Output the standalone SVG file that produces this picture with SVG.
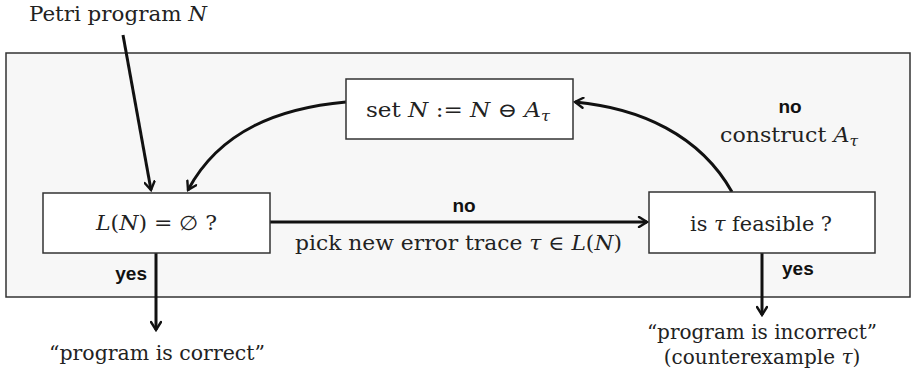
<svg xmlns="http://www.w3.org/2000/svg" width="916" height="386" viewBox="0 0 916 386">
<style>
.t{font-family:"DejaVu Serif","Liberation Serif",serif;font-size:20px;fill:#222}
.m{font-style:italic}
.b{font-family:"Liberation Sans",Arial,sans-serif;font-weight:bold;font-size:19px;fill:#111}
.box{fill:#fff;stroke:#333;stroke-width:1.5}
.e{fill:none;stroke:#111;stroke-width:3;marker-end:url(#ah)}
</style>
<defs>
<marker id="ah" viewBox="0 0 12 12" refX="10" refY="6" markerWidth="12" markerHeight="12" markerUnits="userSpaceOnUse" orient="auto">
<path d="M2,1 L10,6 L2,11" fill="none" stroke="#111" stroke-width="2.4" stroke-linecap="round"/>
</marker>
</defs>
<rect x="6" y="53" width="904" height="244" fill="#f7f7f7" stroke="#333" stroke-width="1.5"/>
<g id="connectors">
<path class="e" d="M123,35 L151,190"/>
<path class="e" d="M346,102 C280,108 220,130 188,190"/>
<path class="e" d="M732,192 C700,135 640,108 575,102"/>
<path class="e" d="M270,222 L647,222"/>
<path class="e" d="M156,253 L156,330"/>
<path class="e" d="M762,253 L762,315"/>
</g>
<g id="labels">
<text class="t" x="29" y="21" textLength="178" lengthAdjust="spacingAndGlyphs">Petri program <tspan class="m">N</tspan></text>
<text class="b" x="464" y="212" text-anchor="middle">no</text>
<text class="t" x="295" y="250" textLength="327" lengthAdjust="spacingAndGlyphs">pick new error trace <tspan class="m">τ</tspan> ∈ <tspan class="m">L</tspan>(<tspan class="m">N</tspan>)</text>
<text class="b" x="790" y="113" text-anchor="middle">no</text>
<text class="t" x="720" y="142" textLength="138" lengthAdjust="spacingAndGlyphs">construct <tspan class="m">A</tspan><tspan class="m" font-size="14" dy="4">τ</tspan></text>
<text class="b" x="147" y="280" text-anchor="end">yes</text>
<text class="b" x="782" y="275">yes</text>
<text class="t" x="49" y="360" textLength="216" lengthAdjust="spacingAndGlyphs">“program is correct”</text>
<text class="t" text-anchor="middle"><tspan x="762" y="339">“program is incorrect”</tspan><tspan x="762" y="364">(counterexample <tspan class="m">τ</tspan>)</tspan></text>
</g>
<g id="n_set">
<rect class="box" x="346" y="79" width="227" height="60"/>
<text class="t" x="366" y="117" textLength="184" lengthAdjust="spacingAndGlyphs">set <tspan class="m">N</tspan> := <tspan class="m">N</tspan> ⊖ <tspan class="m">A</tspan><tspan class="m" font-size="14" dy="4">τ</tspan></text>
</g>
<g id="n_empty">
<rect class="box" x="43" y="193" width="227" height="60"/>
<text class="t" x="96" y="230" textLength="121" lengthAdjust="spacingAndGlyphs"><tspan class="m">L</tspan>(<tspan class="m">N</tspan>) = ∅ ?</text>
</g>
<g id="n_feasible">
<rect class="box" x="649" y="192" width="226" height="61"/>
<text class="t" x="690" y="231" textLength="142" lengthAdjust="spacingAndGlyphs">is <tspan class="m">τ</tspan> feasible ?</text>
</g>
</svg>
